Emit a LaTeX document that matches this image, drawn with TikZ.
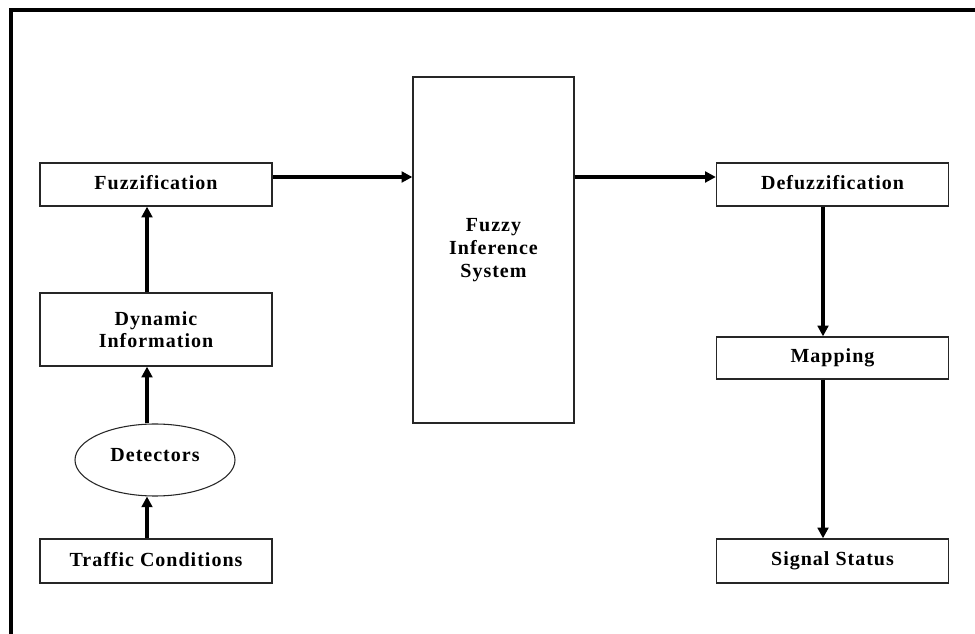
\documentclass[tikz,border=0pt]{standalone}
\usepackage{fontspec}
\setmainfont{Liberation Serif}[LetterSpace=5]
\usetikzlibrary{shapes.geometric,arrows.meta,calc}

\tikzset{
  blk/.style={draw=black!85, line width=1pt, rectangle, minimum width=232*0.75pt,
    inner sep=0pt, align=center, font=\fontsize{15}{16.5}\selectfont\bfseries},
  oval/.style={draw=black!85, line width=0.8pt, ellipse, minimum width=160*0.75pt,
    minimum height=72*0.75pt, inner sep=0pt, font=\fontsize{15}{16.5}\selectfont\bfseries},
  flow/.style={line width=2.3pt, -{Triangle[length=8pt,width=8pt]}},
  frame/.style={line width=3pt}
}

\begin{document}
\begin{tikzpicture}[x=0.75pt, y=-0.75pt]
  \path[clip] (0,0) rectangle (975,634);
  \fill[white] (0,0) rectangle (975,634);
  % outer border
  \draw[frame] (11,10) rectangle (995,660);

  % guide lines for the connectors
  \coordinate (lx) at (147,0);
  \coordinate (rx) at (823,0);
  \coordinate (ry) at (0,177);

  % input chain
  \node[blk, minimum height=43*0.75pt] (fuz) at (156,184.5) {\raisebox{2.5pt}{Fuzzification}};
  \node[blk, minimum height=73*0.75pt] (dyn) at (156,329.5) {Dynamic\\Information};
  \node[oval] (det) at (155,460) {\raisebox{7pt}{Detectors}};
  \node[blk, minimum height=44*0.75pt] (tc) at (156,561) {\raisebox{2.5pt}{Traffic Conditions}};

  % inference block
  \node[draw=black!85, line width=1pt, rectangle, minimum width=161*0.75pt,
    minimum height=346*0.75pt, inner sep=0pt, align=center,
    font=\fontsize{15}{17.25}\selectfont\bfseries] (fis) at (493.5,250) {Fuzzy\\Inference\\System};

  % output chain
  \node[blk, minimum height=43*0.75pt] (dfz) at (832.5,184.5) {\raisebox{2.5pt}{Defuzzification}};
  \node[blk, minimum height=42*0.75pt] (map) at (832.5,358) {\raisebox{2.5pt}{Mapping}};
  \node[blk, minimum height=44*0.75pt] (sig) at (832.5,561) {\raisebox{2.5pt}{Signal Status}};

  % connectors
  \draw[flow] (tc.north -| lx) -- (det.south -| lx);
  \draw[flow] (det.north -| lx) -- (dyn.south -| lx);
  \draw[flow] (dyn.north -| lx) -- (fuz.south -| lx);
  \draw[flow] (fuz.east |- ry) -- (fis.west |- ry);
  \draw[flow] (fis.east |- ry) -- (dfz.west |- ry);
  \draw[flow] (dfz.south -| rx) -- (map.north -| rx);
  \draw[flow] (map.south -| rx) -- (sig.north -| rx);
\end{tikzpicture}
\end{document}
